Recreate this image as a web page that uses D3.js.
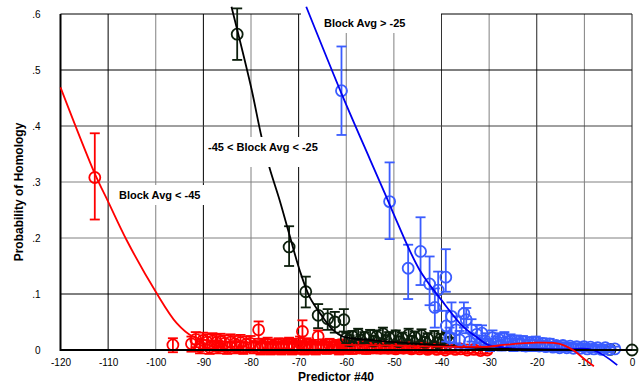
<!DOCTYPE html>
<html>
<head>
<meta charset="utf-8">
<script src="https://cdn.jsdelivr.net/npm/d3@7"></script>
<style>
  body { margin: 0; background: #fff; }
  svg { font-family: Arial, "Liberation Sans", sans-serif; }
  .tick text { font-size: 10px; fill: #000; }
  .axis-title { font-size: 12px; font-weight: bold; }
  .note { font-size: 11px; font-weight: bold; }
</style>
</head>
<body>
<div id="chart"></div>
<script>
// tick values and their labels
var xTicks = [-120, -110, -100, -90, -80, -70, -60, -50, -40, -30, -20, -10, 0];
var xTickLabels = ["-120", "-110", "-100", "-90", "-80", "-70", "-60", "-50", "-40", "-30", "-20", "-10", "0"];
var yTicks = [0, 0.1, 0.2, 0.3, 0.4, 0.5, 0.6];
var yTickLabels = ["0", ".1", ".2", ".3", ".4", ".5", ".6"];

// points: [predictor, probability, lower, upper]
var redPoints = [
  [-112.8, 0.308, 0.233, 0.387],
  [-96.4, 0.009, -0.004, 0.021], [-92.5, 0.011, -0.003, 0.024], [-91.6, 0.019, 0.005, 0.032],
  [-90.1, 0.017, 0.003, 0.031], [-89.2, 0.014, 0.0, 0.028], [-88.1, 0.016, 0.002, 0.03],
  [-87.3, 0.013, -0.001, 0.027], [-86.4, 0.015, 0.001, 0.029], [-85.5, 0.012, -0.002, 0.026],
  [-84.3, 0.014, 0.0, 0.028], [-83.4, 0.011, -0.003, 0.025], [-82.2, 0.013, -0.001, 0.027],
  [-81.0, 0.01, -0.004, 0.024], [-80.1, 0.012, -0.002, 0.025], [-78.4, 0.036, 0.02, 0.051],
  [-77.6, 0.008, -0.004, 0.02], [-76.5, 0.01, -0.003, 0.022], [-75.4, 0.007, -0.005, 0.019],
  [-74.2, 0.009, -0.003, 0.021], [-73.1, 0.008, -0.004, 0.02], [-72.0, 0.01, -0.002, 0.022],
  [-70.9, 0.008, -0.004, 0.02], [-69.2, 0.033, 0.016, 0.053], [-68.3, 0.009, -0.003, 0.021],
  [-67.0, 0.007, -0.004, 0.018], [-65.9, 0.024, 0.012, 0.035], [-64.8, 0.008, -0.003, 0.019],
  [-63.5, 0.009, -0.002, 0.02], [-62.1, 0.007, -0.004, 0.018], [-60.8, 0.008, -0.003, 0.019],
  [-59.4, 0.006, -0.004, 0.017], [-58.0, 0.008, -0.002, 0.018], [-56.5, 0.007, -0.003, 0.017],
  [-55.1, 0.006, -0.004, 0.016], [-53.6, 0.007, -0.003, 0.017], [-52.0, 0.006, -0.003, 0.015],
  [-50.4, 0.005, -0.004, 0.014], [-48.8, 0.006, -0.003, 0.015], [-47.1, 0.005, -0.003, 0.013],
  [-45.5, 0.004, -0.004, 0.012], [-43.8, 0.005, -0.003, 0.013], [-42.0, 0.004, -0.003, 0.011],
  [-40.1, 0.003, -0.004, 0.01], [-38.2, 0.003, -0.003, 0.009], [-36.0, 0.002, -0.004, 0.008],
  [-33.2, 0.001, -0.005, 0.007], [-30.4, 0.0, -0.006, 0.006],
  // the low, packed part of the red band
  [-90.7, 0.006, -0.006, 0.018], [-88.7, 0.005, -0.007, 0.017], [-86.9, 0.006, -0.006, 0.016],
  [-85.0, 0.004, -0.007, 0.015], [-83.0, 0.005, -0.006, 0.016], [-81.6, 0.004, -0.007, 0.014],
  [-79.4, 0.006, -0.006, 0.016], [-78.0, 0.004, -0.008, 0.014], [-77.0, 0.005, -0.007, 0.015],
  [-75.9, 0.003, -0.008, 0.013], [-74.8, 0.005, -0.007, 0.015], [-73.6, 0.004, -0.008, 0.014],
  [-72.5, 0.006, -0.006, 0.016], [-71.4, 0.004, -0.008, 0.014], [-70.2, 0.005, -0.007, 0.015],
  [-69.7, 0.012, 0.0, 0.024], [-68.8, 0.004, -0.008, 0.014], [-67.6, 0.005, -0.007, 0.015],
  [-66.4, 0.003, -0.008, 0.013], [-65.3, 0.005, -0.006, 0.015], [-64.1, 0.004, -0.007, 0.014],
  [-62.8, 0.005, -0.006, 0.015], [-61.5, 0.003, -0.008, 0.013], [-60.1, 0.004, -0.007, 0.014],
  [-58.7, 0.003, -0.007, 0.012], [-57.2, 0.004, -0.006, 0.013], [-55.8, 0.003, -0.007, 0.012],
  [-54.4, 0.004, -0.006, 0.013], [-52.8, 0.003, -0.006, 0.011], [-51.2, 0.003, -0.006, 0.011],
  [-49.6, 0.002, -0.006, 0.01], [-48.0, 0.003, -0.005, 0.01], [-46.3, 0.002, -0.006, 0.009],
  [-44.6, 0.002, -0.005, 0.009], [-42.9, 0.001, -0.006, 0.008], [-41.0, 0.001, -0.005, 0.007],
  [-39.2, 0.0, -0.006, 0.006], [-37.1, 0.001, -0.005, 0.006], [-34.6, 0.0, -0.006, 0.005],
  [-31.8, -0.001, -0.007, 0.004]
];

var blackPoints = [
  [-82.9, 0.564, 0.518, 0.61], [-72.0, 0.184, 0.15, 0.221], [-68.5, 0.104, 0.076, 0.131],
  [-65.9, 0.062, 0.039, 0.082], [-63.9, 0.056, 0.036, 0.073], [-62.4, 0.05, 0.031, 0.068],
  [-60.5, 0.054, 0.033, 0.073], [-60.0, 0.021, 0.011, 0.031], [-58.7, 0.024, 0.014, 0.034],
  [-57.5, 0.028, 0.018, 0.038], [-56.2, 0.022, 0.012, 0.032], [-55.0, 0.026, 0.016, 0.036],
  [-53.6, 0.024, 0.014, 0.035], [-52.3, 0.029, 0.019, 0.04], [-51.0, 0.022, 0.012, 0.032],
  [-49.6, 0.025, 0.015, 0.035], [-48.3, 0.021, 0.011, 0.031], [-46.9, 0.027, 0.017, 0.038],
  [-45.6, 0.023, 0.013, 0.033], [-44.2, 0.026, 0.016, 0.037], [-42.9, 0.02, 0.01, 0.03],
  [-41.5, 0.024, 0.014, 0.034], [-40.2, 0.019, 0.009, 0.029], [-39.0, 0.022, 0.012, 0.032],
  [-59.3, 0.017, 0.008, 0.026], [-57.0, 0.018, 0.009, 0.027], [-54.3, 0.016, 0.008, 0.025],
  [-51.7, 0.017, 0.008, 0.026], [-49.0, 0.015, 0.007, 0.024], [-46.2, 0.016, 0.008, 0.025],
  [-43.5, 0.014, 0.006, 0.023], [-40.8, 0.013, 0.005, 0.022], [-38.4, 0.014, 0.006, 0.022],
  [-4.6, 0.001, -0.003, 0.005], [0.0, 0.0, 0.0, 0.0]
];

var bluePoints = [
  [-61.0, 0.463, 0.384, 0.542], [-50.9, 0.265, 0.198, 0.335], [-47.0, 0.146, 0.091, 0.188],
  [-44.4, 0.176, 0.116, 0.237], [-42.5, 0.118, 0.08, 0.167], [-41.4, 0.076, 0.04, 0.11],
  [-40.7, 0.107, 0.07, 0.14], [-39.1, 0.13, 0.104, 0.18], [-39.0, 0.043, 0.015, 0.07],
  [-37.9, 0.06, 0.03, 0.085], [-36.9, 0.036, 0.012, 0.06], [-35.3, 0.065, 0.04, 0.085],
  [-34.8, 0.054, 0.03, 0.075], [-33.7, 0.036, 0.015, 0.055], [-32.6, 0.028, 0.012, 0.045],
  [-31.5, 0.03, 0.014, 0.044], [-30.1, 0.01, 0.0, 0.02], [-29.3, 0.022, 0.01, 0.035],
  [-28.0, 0.019, 0.008, 0.03], [-26.8, 0.021, 0.01, 0.032], [-25.5, 0.017, 0.007, 0.028],
  [-24.2, 0.016, 0.006, 0.026], [-22.9, 0.015, 0.006, 0.025], [-21.5, 0.013, 0.005, 0.023],
  [-20.2, 0.014, 0.005, 0.024], [-18.8, 0.012, 0.004, 0.021], [-17.3, 0.011, 0.003, 0.02],
  [-15.9, 0.008, 0.002, 0.015], [-14.5, 0.008, 0.002, 0.014], [-13.0, 0.007, 0.001, 0.013],
  [-11.6, 0.006, 0.001, 0.012], [-10.1, 0.006, 0.001, 0.012], [-8.7, 0.005, 0.0, 0.01],
  [-7.2, 0.004, 0.0, 0.009], [-5.6, 0.004, 0.0, 0.009], [-3.6, 0.002, 0.0, 0.006],
  // the low, packed part of the blue band
  [-38.3, 0.022, 0.005, 0.04], [-36.2, 0.018, 0.004, 0.034], [-34.1, 0.015, 0.002, 0.03],
  [-32.0, 0.012, 0.0, 0.026], [-30.8, 0.016, 0.003, 0.03], [-29.8, 0.008, -0.002, 0.02],
  [-28.6, 0.011, 0.0, 0.024], [-27.4, 0.009, -0.001, 0.022], [-26.2, 0.011, 0.0, 0.024],
  [-24.9, 0.008, -0.002, 0.02], [-23.6, 0.009, -0.001, 0.02], [-22.3, 0.007, -0.002, 0.018],
  [-20.9, 0.008, -0.002, 0.019], [-19.5, 0.007, -0.002, 0.017], [-18.1, 0.006, -0.002, 0.016],
  [-16.6, 0.005, -0.002, 0.013], [-15.2, 0.004, -0.002, 0.012], [-13.7, 0.004, -0.002, 0.011],
  [-12.3, 0.003, -0.002, 0.01], [-10.8, 0.003, -0.002, 0.009], [-9.4, 0.002, -0.002, 0.008],
  [-8.0, 0.002, -0.002, 0.007], [-6.4, 0.001, -0.002, 0.006], [-4.8, 0.001, -0.002, 0.005]
];

// fitted curves: [predictor, probability]
var redFit = [
  [-120, 0.469], [-112.8, 0.315], [-110, 0.265], [-106.1, 0.196], [-100, 0.104],
  [-95.6, 0.048], [-92.2, 0.024], [-88, 0.016], [-80, 0.013], [-70, 0.011], [-60, 0.009],
  [-50, 0.008], [-40, 0.006], [-30, 0.006], [-27, 0.009], [-20, 0.013], [-15.2, 0.011],
  [-12.4, 0.0], [-9.9, -0.017], [-8, -0.029]
];
var blackFit = [
  [-84.1, 0.613], [-80, 0.47], [-77.8, 0.381], [-76.1, 0.325], [-74, 0.268], [-72, 0.208],
  [-69.8, 0.143], [-67.7, 0.095], [-65.2, 0.062], [-62.8, 0.036], [-60.7, 0.024],
  [-55, 0.018], [-50, 0.014], [-45, 0.011], [-40, 0.008], [-35, 0.005], [-30, 0.003],
  [-20, 0.001], [-10, 0.0], [0, 0.0]
];
var blueFit = [
  [-68.4, 0.613], [-60.7, 0.452], [-55, 0.34], [-51.6, 0.274], [-49.5, 0.232],
  [-44.6, 0.143], [-40, 0.089], [-35.5, 0.042], [-32.3, 0.021], [-30.2, 0.009],
  [-25, 0.003], [-15, 0.001], [-8.2, 0.0], [-3.1, -0.027]
];

var svgWidth = 639;
var svgHeight = 383;

var svg = d3.select("#chart")
  .append("svg")
  .attr("width", svgWidth)
  .attr("height", svgHeight);

var x = d3.scaleLinear().domain([-120, 0]).range([60.5, 632]);
var y = d3.scaleLinear().domain([0, 0.6]).range([350, 14]);

// grid colours, as in the picture (mixed black and grey)
var vGridColor = ["#000", "#000", "#808080", "#000", "#808080", "#000", "#808080", "#808080", "#333", "#808080", "#222", "#808080", "#000"];
var hGridColor = ["#000", "#000", "#808080", "#808080", "#404040", "#000", "#000"];

var grid = svg.append("g");
grid.selectAll("line.v")
  .data(xTicks.slice(1, -1))
  .enter()
  .append("line")
  .attr("x1", d => x(d)).attr("x2", d => x(d))
  .attr("y1", y(0.6)).attr("y2", y(0))
  .attr("stroke", (d, i) => vGridColor[i + 1])
  .attr("stroke-width", 1);
grid.selectAll("line.h")
  .data(yTicks.slice(1, -1))
  .enter()
  .append("line")
  .attr("x1", x(-120)).attr("x2", x(0))
  .attr("y1", d => y(d)).attr("y2", d => y(d))
  .attr("stroke", (d, i) => hGridColor[i + 1])
  .attr("stroke-width", 1);

// frame
svg.append("line").attr("x1", x(-120)).attr("x2", x(0)).attr("y1", y(0.6)).attr("y2", y(0.6)).attr("stroke", "#000");
svg.append("line").attr("x1", x(0)).attr("x2", x(0)).attr("y1", y(0.6)).attr("y2", y(0)).attr("stroke", "#222");

// label on a white patch
function note(tx, ty, txt, box) {
  svg.append("rect")
    .attr("x", box[0]).attr("y", box[1])
    .attr("width", box[2]).attr("height", box[3])
    .attr("fill", "#fff");
  svg.append("text")
    .attr("class", "note")
    .attr("x", tx).attr("y", ty)
    .text(txt);
}
note(324, 27, "Block Avg > -25", [301, 0, 140, 33]);
note(119, 199, "Block Avg <  -45", [114, 185, 96, 20]);

// axes
var bottomAxis = d3.axisBottom(x)
  .tickValues(xTicks)
  .tickFormat((d, i) => xTickLabels[i])
  .tickSize(0)
  .tickPadding(9);
var leftAxis = d3.axisLeft(y)
  .tickValues(yTicks)
  .tickFormat((d, i) => yTickLabels[i])
  .tickSize(0)
  .tickPadding(20);

var xAxis = svg.append("g")
  .attr("transform", `translate(0, ${y(0)})`)
  .call(bottomAxis);
xAxis.select(".domain").remove();
var yAxis = svg.append("g")
  .attr("transform", `translate(${x(-120)}, 0)`)
  .call(leftAxis);
yAxis.select(".domain").remove();

// markers with error bars
function drawPoints(pts, color) {
  var g = svg.append("g")
    .attr("stroke", color)
    .attr("stroke-width", 1.8)
    .attr("fill", "none");
  var p = g.selectAll("g")
    .data(pts)
    .enter()
    .append("g");
  p.append("line")
    .attr("x1", d => x(d[0])).attr("x2", d => x(d[0]))
    .attr("y1", d => y(d[2])).attr("y2", d => y(d[3]));
  p.append("line")
    .attr("x1", d => x(d[0]) - 5).attr("x2", d => x(d[0]) + 5)
    .attr("y1", d => y(d[2])).attr("y2", d => y(d[2]));
  p.append("line")
    .attr("x1", d => x(d[0]) - 5).attr("x2", d => x(d[0]) + 5)
    .attr("y1", d => y(d[3])).attr("y2", d => y(d[3]));
  p.append("circle")
    .attr("cx", d => x(d[0]))
    .attr("cy", d => y(d[1]))
    .attr("r", 5.5);
}
drawPoints(redPoints, "#ff0000");
drawPoints(blackPoints, "#0d1f0d");
drawPoints(bluePoints, "#3a5cff");

// axis lines on top of the packed markers
svg.append("line").attr("x1", x(-120)).attr("x2", x(0)).attr("y1", y(0)).attr("y2", y(0))
  .attr("stroke", "#000").attr("stroke-width", 2);
svg.append("line").attr("x1", x(-120)).attr("x2", x(-120)).attr("y1", y(0.6)).attr("y2", y(0) + 1)
  .attr("stroke", "#000").attr("stroke-width", 2);

// fitted lines
var line = d3.line()
  .x(d => x(d[0]))
  .y(d => y(d[1]))
  .curve(d3.curveCatmullRom);

svg.append("path").datum(blueFit).attr("d", line)
  .attr("fill", "none").attr("stroke", "#0000f0").attr("stroke-width", 1.8);
svg.append("path").datum(blackFit).attr("d", line)
  .attr("fill", "none").attr("stroke", "#000").attr("stroke-width", 1.8);
svg.append("path").datum(redFit).attr("d", line)
  .attr("fill", "none").attr("stroke", "#ff0000").attr("stroke-width", 1.8);

// middle label breaks the black curve
note(208, 151, "-45 < Block Avg < -25", [204, 137, 126, 30]);

// axis titles
svg.append("text")
  .attr("class", "axis-title")
  .attr("x", 336)
  .attr("y", 381)
  .attr("text-anchor", "middle")
  .text("Predictor #40");

svg.append("text")
  .attr("class", "axis-title")
  .attr("transform", "rotate(-90)")
  .attr("x", -192)
  .attr("y", 23)
  .attr("text-anchor", "middle")
  .text("Probability of Homology");
</script>
</body>
</html>
